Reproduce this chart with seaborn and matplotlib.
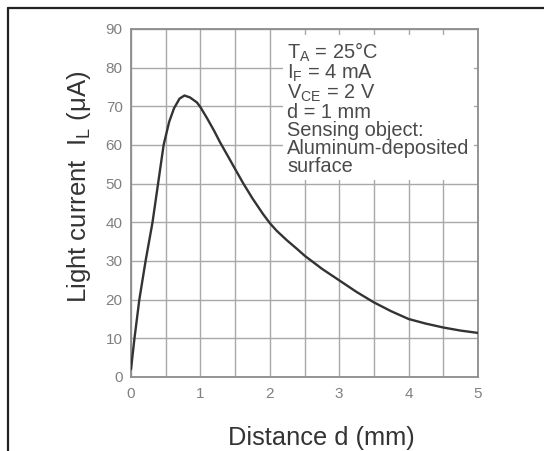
import matplotlib
matplotlib.use("Agg")
import matplotlib.pyplot as plt
from matplotlib.ticker import MultipleLocator
from matplotlib.lines import Line2D
import seaborn as sns
import pandas as pd

# values
distance_mm = [0, 0.05, 0.12, 0.21, 0.31, 0.39, 0.47, 0.55, 0.62, 0.7, 0.77, 0.85,
               0.95, 1.0, 1.1, 1.2, 1.28, 1.4, 1.5, 1.62, 1.75, 1.9, 2.0, 2.1,
               2.25, 2.4, 2.5, 2.75, 3.0, 3.25, 3.5, 3.75, 4.0, 4.25, 4.5, 4.75, 5.0]
light_current_uA = [2, 10, 20, 30, 40, 50, 60, 66, 69.5, 72, 72.8, 72.3,
                    71, 69.8, 66.8, 63.6, 60.8, 57, 53.8, 50, 46.2, 42.2, 39.8, 37.8,
                    35.3, 33, 31.4, 28, 25, 22, 19.3, 17, 15, 13.8, 12.8, 12, 11.4]

conditions = [
    r"T$_\mathregular{A}$ = 25°C",
    r"I$_\mathregular{F}$ = 4 mA",
    r"V$_\mathregular{CE}$ = 2 V",
    "d = 1 mm",
    "Sensing object:",
    "Aluminum-deposited",
    "surface",
]

sns.set_theme(style="white")
plt.rcParams['font.family'] = ['Liberation Sans', 'DejaVu Sans']
plt.rcParams['mathtext.fontset'] = 'custom'
plt.rcParams['mathtext.rm'] = 'Liberation Sans'

df = pd.DataFrame({'d': distance_mm, 'IL': light_current_uA})

fig = plt.figure(figsize=(5.44, 4.51), dpi=100)
ax = fig.add_axes([131 / 544, 1 - 377 / 451, 347 / 544, 348 / 451])

sns.lineplot(data=df, x='d', y='IL', ax=ax, color='#333333', linewidth=1.7, zorder=4)

ax.set_xlim(0, 5)
ax.set_ylim(0, 90)
ax.xaxis.set_major_locator(MultipleLocator(1))
ax.xaxis.set_minor_locator(MultipleLocator(0.5))
ax.yaxis.set_major_locator(MultipleLocator(10))
ax.grid(True, which='both', color='#a8a8a8', linewidth=1.0)
ax.tick_params(which='both', length=0, labelsize=11, labelcolor='#808080')
ax.tick_params(axis='y', pad=6)
ax.tick_params(axis='x', pad=7)
for s in ax.spines.values():
    s.set_color('#8c8c8c')
    s.set_linewidth(1.3)

ax.set_xlabel("Distance d (mm)", fontsize=18.3, color='#333333')
ax.xaxis.set_label_coords(0.55, -0.142)
ax.set_ylabel(r"Light current  I$_\mathregular{L}$ (μA)", fontsize=18.5, color='#333333')
ax.yaxis.set_label_coords(-0.11, 0.547)

ax.text(2.25, 87, "\n".join(conditions), ha='left', va='top', fontsize=14.4,
        color='#4a4a4a', linespacing=0.93, zorder=3,
        bbox=dict(facecolor='white', edgecolor='none', pad=3))

# frame lines around the figure (top and left)
fig.add_artist(Line2D([8 / 544, 1], [1 - 8 / 451, 1 - 8 / 451], color='#222222', linewidth=1.6))
fig.add_artist(Line2D([8 / 544, 8 / 544], [0, 1 - 8 / 451], color='#222222', linewidth=1.6))

fig.savefig("out.png", dpi=100)
plt.close()
